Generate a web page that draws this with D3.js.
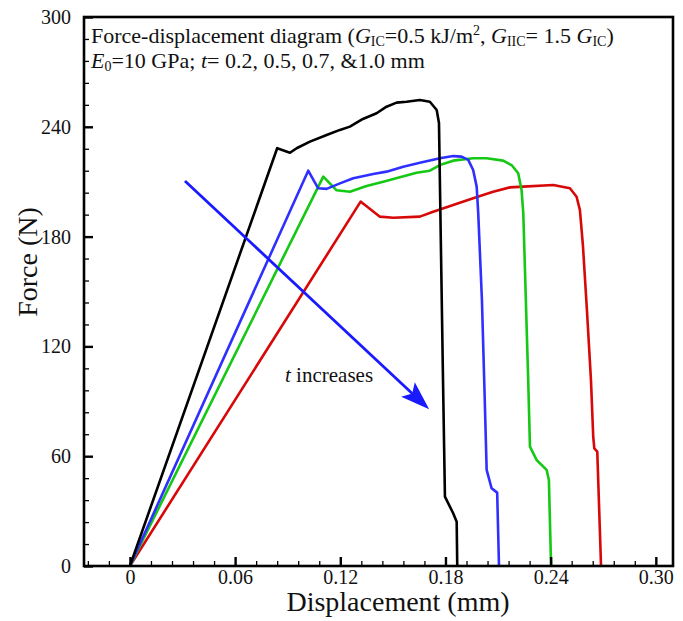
<!DOCTYPE html>
<html><head><meta charset="utf-8">
<script src="https://cdn.jsdelivr.net/npm/d3@7"></script>
<style>body{margin:0;background:#fff;} text{font-family:"Liberation Serif","Times New Roman",serif;}</style>
</head><body>
<svg id="chart" width="683" height="621"></svg>
<script>
// ---- data ----
const xTickValues = [0, 0.06, 0.12, 0.18, 0.24, 0.30];
const xTickLabels = ["0", "0.06", "0.12", "0.18", "0.24", "0.30"];
const yTickValues = [0, 60, 120, 180, 240, 300];
const yTickLabels = ["0", "60", "120", "180", "240", "300"];

const blackDisp  = [0, 0.0840, 0.0913, 0.0951, 0.1027, 0.1122, 0.1198, 0.1255, 0.1329, 0.1407, 0.1464, 0.1521, 0.1578, 0.1654, 0.1711, 0.1750, 0.1763, 0.1786, 0.1797, 0.1844, 0.1864, 0.1867, 0.1868];
const blackForce = [0, 228.3, 225.8, 228.3, 231.9, 235.5, 238.3, 240.1, 244.3, 247.4, 251.0, 253.2, 253.7, 254.6, 253.7, 249.2, 242.1, 101.6, 37.9, 28.8, 24.2, 1.6, 0];

const blueDisp  = [0, 0.1017, 0.1074, 0.1122, 0.1198, 0.1274, 0.1388, 0.1464, 0.1559, 0.1654, 0.1768, 0.1844, 0.1892, 0.1930, 0.1958, 0.1978, 0.1987, 0.2008, 0.2021, 0.2035, 0.2063, 0.2095, 0.2105, 0.2105];
const blueForce = [0, 216.0, 206.4, 206.1, 209.1, 211.9, 214.2, 215.5, 218.2, 220.4, 222.8, 224.0, 223.7, 221.9, 216.4, 207.3, 192.7, 145.4, 101.6, 52.5, 42.5, 40.1, 1.5, 0];

const greenDisp  = [0, 0.1103, 0.1179, 0.1255, 0.1350, 0.1445, 0.1540, 0.1635, 0.1711, 0.1768, 0.1844, 0.1958, 0.2035, 0.2129, 0.2177, 0.2215, 0.2234, 0.2244, 0.2272, 0.2282, 0.2320, 0.2377, 0.2390, 0.2402, 0.2402];
const greenForce = [0, 212.8, 205.3, 204.5, 207.7, 210.0, 212.4, 214.9, 216.0, 219.1, 221.5, 222.8, 222.8, 221.5, 219.1, 214.6, 205.5, 192.7, 101.6, 65.2, 57.9, 52.5, 47.0, 1.6, 0];

const redDisp  = [0, 0.1316, 0.1341, 0.1426, 0.1502, 0.1654, 0.1730, 0.1844, 0.1958, 0.2072, 0.2168, 0.2244, 0.2415, 0.2510, 0.2548, 0.2567, 0.2584, 0.2607, 0.2630, 0.2643, 0.2649, 0.2666, 0.2687, 0.2687];
const redForce = [0, 199.1, 197.3, 190.9, 190.3, 190.9, 193.6, 197.3, 200.9, 204.5, 206.9, 207.3, 208.2, 206.4, 201.8, 194.5, 175.4, 139.9, 101.6, 70.7, 64.3, 62.5, 1.5, 0];

const seriesNames = ["t=0.2", "t=0.5", "t=0.7", "t=1.0"];
const seriesColors = ["#000000", "#2f2fff", "#14c814", "#d80808"];

// arrow (data coordinates): start, end
const arrowDisp = [0.0314, 0.1707];
const arrowForce = [210.4, 85.6];

// ---- chart ----
const SERIF = '"Liberation Serif", "Times New Roman", serif';
const svg = d3.select("#chart");
const L = 84, R = 673, T = 17, B = 566;
const x = d3.scaleLinear().domain([-0.0262, 0.3098]).range([L, R]);
const y = d3.scaleLinear().domain([0, 300]).range([B, T]);

const clipId = "plotclip";
svg.append("defs").append("clipPath").attr("id", clipId)
  .append("rect").attr("x", L).attr("y", T).attr("width", R - L).attr("height", B - T);

// curves
const series = [
  [blackDisp, blackForce], [blueDisp, blueForce], [greenDisp, greenForce], [redDisp, redForce]
];
const line = d3.line().x(d => x(d[0])).y(d => y(d[1]));
const order = [3, 2, 1, 0];
const g = svg.append("g").attr("clip-path", `url(#${clipId})`);
order.forEach(i => {
  const pts = series[i][0].map((d, k) => [d, series[i][1][k]]);
  g.append("path").datum(pts)
    .attr("d", line)
    .attr("fill", "none")
    .attr("stroke", seriesColors[i])
    .attr("stroke-width", 2.6)
    .attr("stroke-linejoin", "round");
});

// minor ticks
const xMinor = d3.range(-0.024, 0.3001, 0.012).filter(v => !xTickValues.some(t => Math.abs(t - v) < 1e-6));
const yMinor = d3.range(12, 300, 12).filter(v => v % 60 !== 0);

const xAxisMinor = d3.axisBottom(x).tickValues(xMinor).tickSize(-5).tickFormat("");
const yAxisMinor = d3.axisLeft(y).tickValues(yMinor).tickSize(-5).tickFormat("");
const xAxis = d3.axisBottom(x).tickValues(xTickValues).tickSize(-9).tickPadding(14)
  .tickFormat((d, i) => xTickLabels[i]);
const yAxis = d3.axisLeft(y).tickValues(yTickValues).tickSize(-9).tickPadding(14)
  .tickFormat((d, i) => yTickLabels[i]);

function styleAxis(sel, w) {
  sel.attr("font-family", SERIF).attr("font-size", 20);
  sel.select(".domain").remove();
  sel.selectAll(".tick line").attr("stroke", "#000").attr("stroke-width", w);
  sel.selectAll(".tick text").attr("fill", "#111").attr("font-family", SERIF)
    .style("font-family", SERIF).style("font-size", "20px");
}
svg.append("g").attr("transform", `translate(0,${B})`).call(xAxisMinor).call(s => styleAxis(s, 1.3));
svg.append("g").attr("transform", `translate(${L},0)`).call(yAxisMinor).call(s => styleAxis(s, 1.3));
const gx = svg.append("g").attr("transform", `translate(0,${B})`).call(xAxis).call(s => styleAxis(s, 2.4));
const gy = svg.append("g").attr("transform", `translate(${L},0)`).call(yAxis).call(s => styleAxis(s, 2.4));
gx.selectAll(".tick text").attr("dy", null).attr("y", 18);
gy.selectAll(".tick text").attr("x", -13);

// frame
svg.append("rect").attr("x", L).attr("y", T).attr("width", R - L).attr("height", B - T)
  .attr("fill", "none").attr("stroke", "#000").attr("stroke-width", 2.6);

// axis titles
svg.append("text").attr("x", 398).attr("y", 611).attr("text-anchor", "middle").attr("font-family", SERIF)
  .style("font-size", "28px").attr("fill", "#111").text("Displacement (mm)");
svg.append("text").attr("transform", `translate(37,262) rotate(-90)`).attr("text-anchor", "middle").attr("font-family", SERIF)
  .style("font-size", "28px").attr("fill", "#111").text("Force (N)");

// header text
const fs = "22px", sub = "14px";
const t1 = svg.append("text").attr("x", 91).attr("y", 43).attr("font-family", SERIF).style("font-size", fs).attr("fill", "#111");
t1.append("tspan").text("Force-displacement diagram (");
t1.append("tspan").style("font-style", "italic").text("G");
t1.append("tspan").style("font-size", sub).attr("dy", 3).text("IC");
t1.append("tspan").attr("dy", -3).text("=0.5 kJ/m");
t1.append("tspan").style("font-size", sub).attr("dy", -8).text("2");
t1.append("tspan").attr("dy", 8).text(", ");
t1.append("tspan").style("font-style", "italic").text("G");
t1.append("tspan").style("font-size", sub).attr("dy", 3).text("IIC");
t1.append("tspan").attr("dy", -3).text("= 1.5 ");
t1.append("tspan").style("font-style", "italic").text("G");
t1.append("tspan").style("font-size", sub).attr("dy", 3).text("IC");
t1.append("tspan").attr("dy", -3).text(")");

const t2 = svg.append("text").attr("x", 91).attr("y", 68).attr("font-family", SERIF).style("font-size", fs).attr("fill", "#111");
t2.append("tspan").style("font-style", "italic").text("E");
t2.append("tspan").style("font-size", sub).attr("dy", 3).text("0");
t2.append("tspan").attr("dy", -3).text("=10 GPa; ");
t2.append("tspan").style("font-style", "italic").text("t");
t2.append("tspan").text("= 0.2, 0.5, 0.7, &1.0 mm");

// arrow
const ax0 = x(arrowDisp[0]), ay0 = y(arrowForce[0]), ax1 = x(arrowDisp[1]), ay1 = y(arrowForce[1]);
const ang = Math.atan2(ay1 - ay0, ax1 - ax0);
const headLen = 29, headW = 10;
const bx = ax1 - headLen * Math.cos(ang), by = ay1 - headLen * Math.sin(ang);
const nx = -Math.sin(ang), ny = Math.cos(ang);
const notchX = ax1 - headLen * 0.8 * Math.cos(ang), notchY = ay1 - headLen * 0.8 * Math.sin(ang);
svg.append("line").attr("x1", ax0).attr("y1", ay0).attr("x2", notchX).attr("y2", notchY)
  .attr("stroke", "#1a1aff").attr("stroke-width", 2.8);
svg.append("path")
  .attr("d", `M${ax1},${ay1} L${bx + nx * headW},${by + ny * headW} L${notchX},${notchY} L${bx - nx * headW},${by - ny * headW} Z`)
  .attr("fill", "#1a1aff");

const t3 = svg.append("text").attr("x", 285).attr("y", 382).attr("font-family", SERIF).style("font-size", "21px").attr("fill", "#111");
t3.append("tspan").style("font-style", "italic").text("t");
t3.append("tspan").text(" increases");
</script>
</body></html>
